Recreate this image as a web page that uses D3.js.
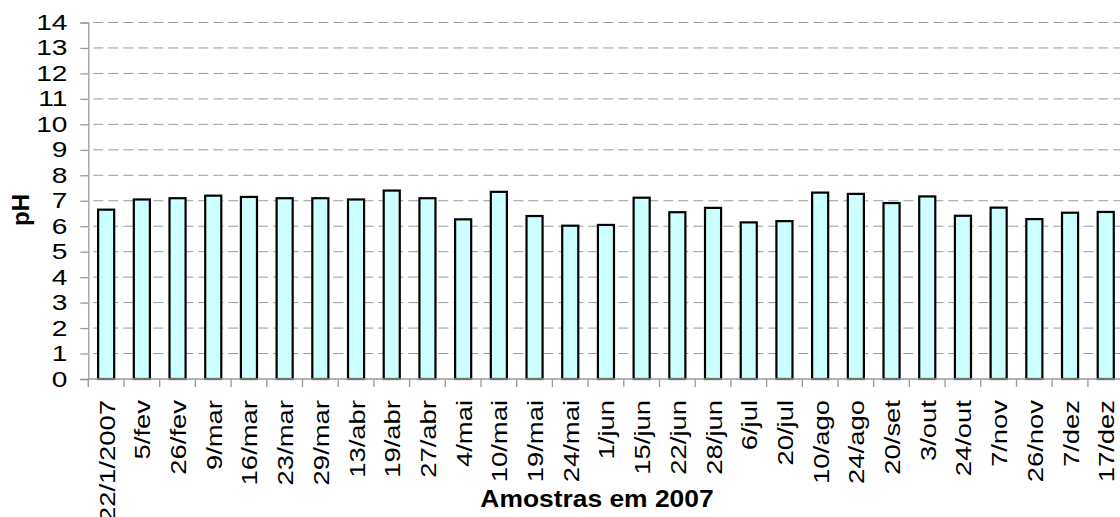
<!DOCTYPE html>
<html><head><meta charset="utf-8">
<script src="https://cdn.jsdelivr.net/npm/d3@7"></script>
<style>body{margin:0;background:#fff}svg{display:block}text{font-family:"Liberation Sans",Arial,sans-serif}</style>
</head><body><svg id="c" width="1120" height="517"></svg>
<script>
const categories = ["22/1/2007","5/fev","26/fev","9/mar","16/mar","23/mar","29/mar","13/abr","19/abr","27/abr","4/mai","10/mai","19/mai","24/mai","1/jun","15/jun","22/jun","28/jun","6/jul","20/jul","10/ago","24/ago","20/set","3/out","24/out","7/nov","26/nov","7/dez","17/dez"];
const phValues = [6.65,7.05,7.1,7.2,7.15,7.1,7.1,7.05,7.4,7.1,6.27,7.35,6.4,6.02,6.05,7.12,6.55,6.72,6.15,6.2,7.32,7.27,6.91,7.17,6.41,6.73,6.28,6.53,6.56];
const yTicks = d3.range(0, 15);
const xTitle = "Amostras em 2007";
const yTitle = "pH";

const svg = d3.select("#c");
const pL = 88.3, pR = 1123.6, pT = 22.5, pB = 379;
const x = d3.scaleBand().domain(categories).range([pL, pR]).paddingInner(0.55).paddingOuter(0.275);
const xb = d3.scaleBand().domain(categories).range([pL, pR]);
const y = d3.scaleLinear().domain([0, 14]).range([pB, pT]);
const gray = "#9a9a9a";

// gridlines
svg.append("g").selectAll("line").data(yTicks.filter(d => d > 0)).join("line")
  .attr("x1", pL).attr("x2", pR).attr("y1", d => y(d)).attr("y2", d => y(d))
  .attr("stroke", gray).attr("stroke-width", 1).attr("stroke-dasharray", "10,5")
  .attr("stroke-dashoffset", -5);

// y axis
const ya = svg.append("g").attr("transform", `translate(${pL},0)`)
  .call(d3.axisLeft(y).tickValues(yTicks).tickSize(8).tickFormat(""));
ya.select(".domain").attr("stroke", gray).attr("stroke-width", 1.3);
ya.selectAll(".tick line").attr("stroke", gray).attr("stroke-width", 1.3);
svg.append("g").selectAll("text").data(yTicks).join("text")
  .attr("transform", d => `translate(67.5,${y(d) + 7.5}) scale(1.25,1)`)
  .attr("text-anchor", "end").attr("font-size", 22.5).attr("fill", "#000")
  .text(d => d3.format("d")(d));

// bars
svg.append("g").selectAll("rect").data(phValues).join("rect")
  .attr("x", (d, i) => x(categories[i]))
  .attr("width", x.bandwidth())
  .attr("y", d => y(d))
  .attr("height", d => y(0) - y(d))
  .attr("fill", "#ccffff").attr("stroke", "#000").attr("stroke-width", 2.2);

// x axis
svg.append("line").attr("x1", pL).attr("x2", pR).attr("y1", pB).attr("y2", pB)
  .attr("stroke", gray).attr("stroke-width", 1.3);
svg.append("g").selectAll("line").data(categories).join("line")
  .attr("x1", d => xb(d)).attr("x2", d => xb(d)).attr("y1", pB).attr("y2", pB + 8)
  .attr("stroke", gray).attr("stroke-width", 1.3);
svg.append("g").selectAll("text").data(categories).join("text")
  .attr("transform", d => `translate(${xb(d) + xb.bandwidth() / 2 + 8.5},400) rotate(-90) scale(1.22,1)`)
  .attr("text-anchor", "end")
  .attr("font-size", 22.5).attr("fill", "#000").text(d => d);

// titles
svg.append("text").attr("transform", "translate(597,507) scale(1.1,1)").attr("text-anchor", "middle")
  .attr("font-size", 24).attr("font-weight", "bold").text(xTitle);
svg.append("text").attr("transform", "translate(29,210) rotate(-90)").attr("text-anchor", "middle")
  .attr("font-size", 24).attr("font-weight", "bold").text(yTitle);
</script></body></html>
